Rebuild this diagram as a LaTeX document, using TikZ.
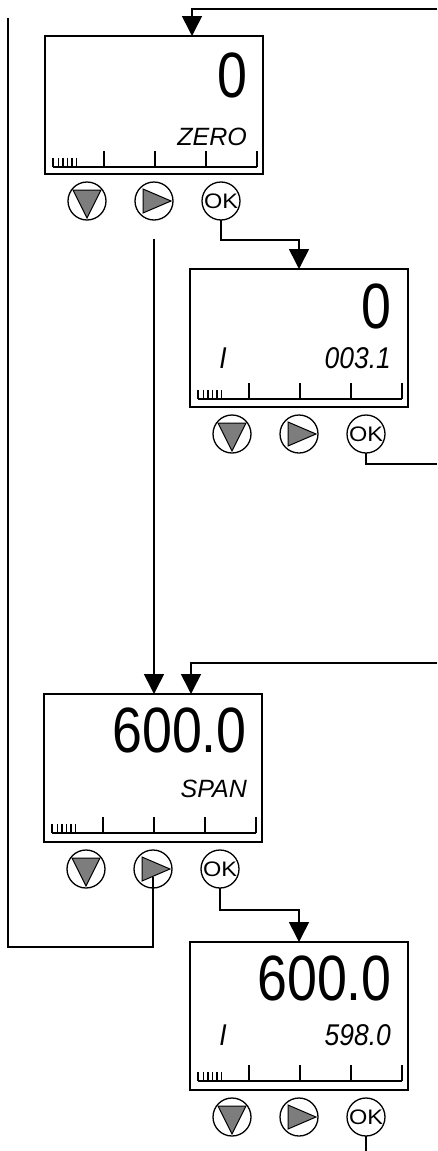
\documentclass[tikz,border=0pt]{standalone}
\usepackage{fontspec}
\setmainfont{Liberation Sans}
\newfontfamily\lcdbig[FakeStretch=0.84]{Liberation Sans}
\newfontfamily\lcdnum[FakeStretch=0.88]{Liberation Sans}
\newfontfamily\okfont[FakeStretch=1.12]{Liberation Sans}
\usetikzlibrary{arrows.meta, positioning, calc}
\definecolor{keygray}{RGB}{125,125,125}
\tikzset{
  lcd/.style={
    rectangle, draw, line width=1.8pt, minimum width=218pt,
    inner sep=0pt, outer sep=0pt, anchor=north west
  },
  bignum/.style={font=\lcdbig\fontsize{64}{64}\selectfont, inner sep=0pt, anchor=base east},
  lbl/.style={font=\itshape\fontsize{25}{25}\selectfont, inner sep=0pt, anchor=base east},
  meas/.style={font=\lcdnum\itshape\fontsize{30}{30}\selectfont, inner sep=0pt, anchor=base east},
  btn/.style={circle, draw, line width=1.3pt, minimum size=38pt, inner sep=0pt,
    outer sep=0pt, font=\okfont\fontsize{21}{21}\selectfont},
  tri/.style={fill=keygray, draw, line width=1pt, line join=miter},
  scl/.style={line width=1.4pt},
  ln/.style={line width=1.6pt},
  arr/.style={ln, -{Triangle[length=20pt, width=20pt]}}
}
\begin{document}
\begin{tikzpicture}[x=1pt, y=-1pt]
  \useasboundingbox (0,0) rectangle (437,1151);

  %% ── displays ────────────────────────────────────────────
  \node[lcd, minimum height=138pt] (zero)  at (45,36)   {};
  \node[lcd, minimum height=138pt] (zerod) at (190,269) {};
  \node[lcd, minimum height=148pt] (span)  at (44,694)  {};
  \node[lcd, minimum height=148pt] (spand) at (190,942) {};

  %% ── readings ────────────────────────────────────────────
  \node[bignum] (zero-val)  at ([shift={(203,61)}]zero.north west)   {0};
  \node[lbl]    (zero-lbl)  at ([shift={(202,109)}]zero.north west)  {ZERO};
  \node[bignum] (zerod-val) at ([shift={(202,59)}]zerod.north west)  {0};
  \node[meas, anchor=base] (zerod-i) at ([shift={(33,99)}]zerod.north west) {I};
  \node[meas]   (zerod-num) at ([shift={(201,99)}]zerod.north west)  {003.1};
  \node[bignum] (span-val)  at ([shift={(203,58)}]span.north west)   {600.0};
  \node[lbl]    (span-lbl)  at ([shift={(203,103)}]span.north west)  {SPAN};
  \node[bignum] (spand-val) at ([shift={(202,58)}]spand.north west)  {600.0};
  \node[meas, anchor=base] (spand-i) at ([shift={(33,103)}]spand.north west) {I};
  \node[meas]   (spand-num) at ([shift={(201,103)}]spand.north west) {598.0};

  %% ── keys and bar graph under every display ──────────────
  \foreach \p/\h in {zero/7, zerod/8, span/9, spand/9}{
    \node[btn] (\p-dn) at ([shift={(42,27)}]\p.south west)  {};
    \node[btn] (\p-rt) at ([shift={(109,27)}]\p.south west) {};
    \node[btn] (\p-ok) at ([shift={(176,27)}]\p.south west) {OK};
    \filldraw[tri] (\p-dn.center) ++(-14,-11) -- ++(28,0) -- ++(-14,28) -- cycle;
    \filldraw[tri] (\p-rt.center) ++(-11,-12) -- ++(0,24) -- ++(28,-12) -- cycle;
    \coordinate (\p-bar) at ([shift={(8,-\h)}]\p.south west);
    \draw[scl] (\p-bar) -- ++(204,0);
    \foreach \k in {1,...,4}
      \draw[scl] (\p-bar) ++(51*\k,0) -- ++(0,-16);
    \foreach \k in {0,5.5,10,14.5,19,23.5}
      \draw[scl] (\p-bar) ++(\k,0) -- ++(0,-9);
  }

  %% ── flow between displays ───────────────────────────────
  \coordinate (inA)  at (437,9);
  \coordinate (outB) at (437,464);
  \coordinate (inC)  at (437,663);
  \coordinate (back) at (8,18);
  \coordinate (outE) at (366,1151);

  \draw[arr] (inA) -| ([xshift=147pt]zero.north west);
  \draw[arr] (zero-ok.south) -- ++(0,20) -| (zerod-rt |- zerod.north);
  \draw[arr, shorten <=19pt] (zero-rt.south) -- (zero-rt |- span.north);
  \draw[ln]  (zerod-ok.south) |- (outB);
  \draw[arr] (inC) -| ([xshift=147pt]span.north west);
  \draw[arr] (span-ok.south) -- ++(0,22) -| (spand-rt |- spand.north);
  \draw[ln]  ([yshift=-8pt]span-rt.center) -- ++(0,70) -| (back);
  \draw[ln]  (spand-ok.south) -- (outE);

\end{tikzpicture}
\end{document}
